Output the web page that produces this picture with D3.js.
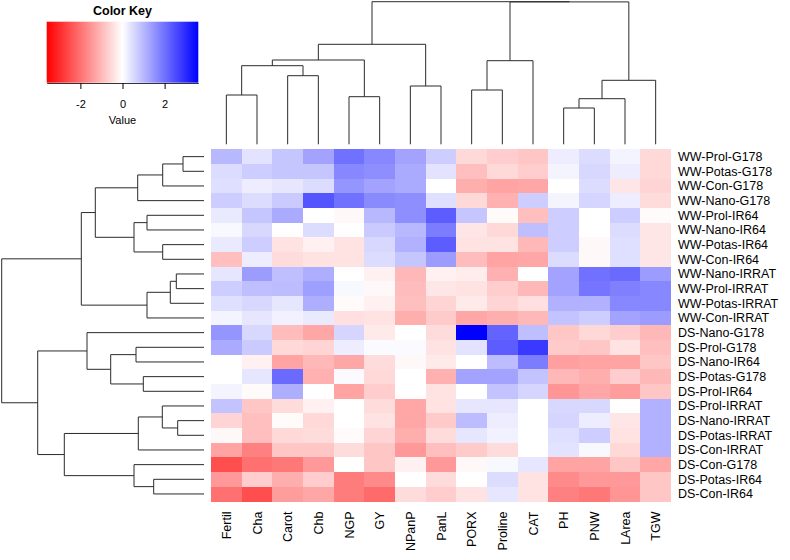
<!DOCTYPE html>
<html><head><meta charset="utf-8">
<script src="https://cdn.jsdelivr.net/npm/d3@7"></script>
<style>
body{margin:0;background:#fff;}
svg{display:block;font-family:"Liberation Sans",Arial,sans-serif;}
</style></head>
<body><svg id="c" width="790" height="560"></svg>
<script>
const colLabels = ["Fertil","Cha","Carot","Chb","NGP","GY","NPanP","PanL","PORX","Proline","CAT","PH","PNW","LArea","TGW"];
const rowLabels = ["WW-Prol-G178","WW-Potas-G178","WW-Con-G178","WW-Nano-G178","WW-Prol-IR64","WW-Nano-IR64","WW-Potas-IR64","WW-Con-IR64","WW-Nano-IRRAT","WW-Prol-IRRAT","WW-Potas-IRRAT","WW-Con-IRRAT","DS-Nano-G178","DS-Prol-G178","DS-Nano-IR64","DS-Potas-G178","DS-Prol-IR64","DS-Prol-IRRAT","DS-Nano-IRRAT","DS-Potas-IRRAT","DS-Con-IRRAT","DS-Con-G178","DS-Potas-IR64","DS-Con-IR64"];
// scaled values, one row per rowLabel, columns in colLabels order
const values = [
 [1.0,0.4,0.8,1.3,2.0,1.7,1.3,0.7,-0.55,-0.7,-0.8,0.25,0.5,0.15,-0.55],
 [0.5,0.7,0.8,0.8,1.7,1.6,1.2,0.4,-0.9,-0.55,-0.7,0.15,0.55,0.25,-0.55],
 [0.45,0.25,0.35,0.5,1.5,1.3,1.2,0.0,-1.15,-1.3,-1.25,0.0,0.5,-0.35,-0.6],
 [0.7,0.5,0.75,2.4,2.0,1.65,1.6,0.45,-0.55,-1.1,0.7,0.15,0.6,0.25,-0.5],
 [0.3,0.8,1.2,0.0,-0.1,1.0,1.6,2.3,0.8,-0.05,-0.9,0.7,0.0,0.7,-0.05],
 [0.1,0.55,0.0,0.5,0.0,0.75,1.0,1.85,-0.35,-0.55,0.9,0.7,0.0,0.5,-0.35],
 [0.3,0.7,-0.4,-0.2,-0.4,0.55,1.1,2.3,-0.4,-0.4,-1.0,0.7,-0.1,0.45,-0.35],
 [-0.9,0.25,-0.5,-0.4,-0.4,0.5,0.8,1.4,-0.95,-1.3,-1.25,0.5,-0.1,0.45,-0.35],
 [0.35,1.4,0.9,1.15,0.0,-0.2,-1.0,-0.2,-0.25,-1.1,0.0,1.3,2.0,2.1,1.4],
 [0.7,0.9,0.95,1.35,0.1,-0.1,-0.95,-0.35,-0.4,-0.7,-1.0,1.3,1.95,1.8,1.7],
 [0.45,0.55,0.35,1.15,-0.05,-0.2,-0.9,-0.6,-0.3,-0.6,-0.45,1.1,1.1,1.7,1.7],
 [0.15,0.35,0.2,0.3,-0.45,-0.4,-1.15,-0.75,-1.25,-1.15,-1.0,0.85,0.7,1.3,1.4],
 [1.5,0.55,-0.95,-1.25,0.6,-0.3,0.0,-0.5,3.6,2.2,0.9,-0.8,-0.55,-0.7,-1.0],
 [1.2,0.75,-0.55,-0.6,0.25,0.05,0.05,-0.4,0.4,2.3,2.8,-0.75,-0.8,-0.4,-0.9],
 [0.0,-0.2,-1.3,-1.0,-1.25,-0.5,-0.1,-0.3,0.0,0.95,1.85,-1.35,-1.3,-1.3,-0.8],
 [0.0,0.35,2.1,-1.1,0.05,-0.55,0.0,-1.1,1.3,1.3,0.85,-1.0,-1.15,-0.7,-1.0],
 [0.15,-0.05,1.15,0.0,-1.3,-0.7,0.0,-0.4,0.0,0.85,0.6,-1.5,-1.25,-1.4,-0.8],
 [0.85,-0.8,-0.5,-0.2,0.0,-0.5,-1.25,-0.4,0.35,0.35,0.0,0.55,0.55,0.0,1.1],
 [-0.6,-0.9,-0.05,-0.55,0.0,-0.4,-1.25,-0.75,0.95,0.25,0.0,0.6,0.25,-0.35,1.1],
 [-0.1,-0.9,-0.55,-0.5,-0.05,-0.6,-1.15,-0.5,0.35,0.2,0.0,0.45,0.7,-0.4,1.1],
 [-1.3,-1.8,-0.8,-0.8,-0.5,-0.8,-1.45,-0.9,-0.75,-0.5,0.0,0.4,0.1,-0.55,1.1],
 [-2.5,-2.0,-1.9,-1.45,0.0,-0.8,-0.2,-1.45,-0.1,0.1,0.35,-1.3,-1.3,-0.8,-1.25],
 [-1.45,-0.7,-1.15,-0.7,-1.85,-1.65,0.0,-0.5,0.0,0.5,-0.4,-1.65,-1.45,-1.45,-0.8],
 [-2.0,-2.5,-1.4,-1.25,-1.85,-2.1,-0.5,-0.7,-0.4,0.35,-0.4,-1.8,-1.9,-1.5,-0.8]
];
// hclust-style merges: negative = leaf (-(index+1)) in display order, positive = earlier merge (1-based); third = height
const colMerge = [
 [-1,-2,4.93],[-3,-4,6.86],[1,2,7.86],[-5,-6,4.76],[3,4,8.43],[-7,-8,5.83],[5,6,10.0],
 [-9,-10,5.43],[8,-11,8.36],[-12,-13,3.63],[10,-14,4.56],[11,-15,6.40],[9,12,14.24],[7,13,14.26]
];
const rowMerge = [
 [-1,-2,2.10],[1,-3,4.13],[2,-4,6.63],[-5,-6,5.70],[-7,-8,4.13],[4,5,7.00],[3,6,10.87],
 [-9,-10,2.77],[8,-11,3.37],[9,-12,5.70],[7,10,12.27],
 [-14,-15,6.80],[-16,-17,6.07],[12,13,9.33],[-13,14,11.70],
 [-19,-20,2.63],[-18,16,4.17],[17,-21,6.57],[-23,-24,5.03],[-22,19,7.00],[18,20,13.97],
 [15,21,16.63],[11,22,20.23]
];
const keyTicks = [-2,0,2];
const keyRange = [-3.6,3.6];

const svg = d3.select("#c");
const x = d3.scaleBand().domain(colLabels).range([211,671]);
const y = d3.scaleBand().domain(rowLabels).range([149.3,501.3]);
const color = d3.scaleLinear().domain([keyRange[0],0,keyRange[1]]).range(["#ff0000","#ffffff","#0000ff"]).clamp(true);

// heatmap cells
const cells = [];
values.forEach((r,i)=>r.forEach((v,j)=>cells.push({r:rowLabels[i],c:colLabels[j],v})));
svg.append("g").selectAll("rect").data(cells).join("rect")
 .attr("x",d=>x(d.c)).attr("y",d=>y(d.r))
 .attr("width",x.bandwidth()+0.4).attr("height",y.bandwidth()+0.4)
 .attr("fill",d=>color(d.v)).attr("shape-rendering","crispEdges");

// row labels
svg.append("g").selectAll("text").data(rowLabels).join("text")
 .attr("x",678).attr("y",d=>y(d)+y.bandwidth()/2).attr("dy","0.36em")
 .attr("font-size","12.5px").attr("fill","#000").text(d=>d);
// column labels
svg.append("g").selectAll("text").data(colLabels).join("text")
 .attr("transform",d=>`translate(${x(d)+x.bandwidth()/2},511.5) rotate(-90)`)
 .attr("dy","0.36em").attr("text-anchor","end")
 .attr("font-size","12.5px").attr("fill","#000").text(d=>d);

// dendrogram helper
function dendro(merge, leafPos, hScale, vertical){
  const nodes = merge.map(()=>null);
  const get = k => k<0 ? {p:leafPos(-k-1),h:0} : nodes[k-1];
  const segs = [];
  merge.forEach((m,i)=>{
    const a = get(m[0]), b = get(m[1]);
    const node = {p:(a.p+b.p)/2, h:m[2]};
    nodes[i] = node;
    [a,b].forEach(c=>segs.push([[c.p,c.h],[c.p,node.h]]));
    segs.push([[a.p,node.h],[b.p,node.h]]);
  });
  return segs.map(s=>s.map(([p,h])=> vertical ? [p,hScale(h)] : [hScale(h),p]));
}
const line = d3.line();
const colH = d3.scaleLinear().domain([0,14.26]).range([144.3,1.7]);
const colSegs = dendro(colMerge, i=>x(colLabels[i])+x.bandwidth()/2, colH, true);
svg.append("g").selectAll("path").data(colSegs).join("path")
 .attr("d",line).attr("stroke","#2a2a2a").attr("stroke-width",1).attr("fill","none");
const rowH = d3.scaleLinear().domain([0,20.23]).range([204,1.7]);
const rowSegs = dendro(rowMerge, i=>y(rowLabels[i])+y.bandwidth()/2, rowH, false);
svg.append("g").selectAll("path").data(rowSegs).join("path")
 .attr("d",line).attr("stroke","#2a2a2a").attr("stroke-width",1).attr("fill","none");

// color key
const kx = d3.scaleLinear().domain(keyRange).range([46.7,198.3]);
const grad = svg.append("defs").append("linearGradient").attr("id","kg")
 .attr("x1","0%").attr("x2","100%").attr("y1","0%").attr("y2","0%");
d3.range(0,1.0001,0.05).forEach(t=>{
  grad.append("stop").attr("offset",(t*100)+"%").attr("stop-color",color(keyRange[0]+t*(keyRange[1]-keyRange[0])));
});
svg.append("rect").attr("x",kx(keyRange[0])).attr("y",21.7)
 .attr("width",kx(keyRange[1])-kx(keyRange[0])).attr("height",61).attr("fill","url(#kg)");
const ax = svg.append("g").attr("transform","translate(0,83)")
 .call(d3.axisBottom(kx).tickValues(keyTicks).tickSize(6).tickSizeOuter(0).tickPadding(11).tickFormat(d=>String(d)));
ax.select(".domain").attr("stroke","#333");
ax.selectAll(".tick line").attr("stroke","#000");
ax.selectAll("text").attr("font-size","11px").attr("font-family","Liberation Sans, Arial, sans-serif").attr("fill","#000");
svg.append("text").attr("x",122.5).attr("y",124).attr("text-anchor","middle")
 .attr("font-size","11px").text("Value");
svg.append("text").attr("x",122.5).attr("y",15).attr("text-anchor","middle")
 .attr("font-size","12.5px").attr("font-weight","bold").text("Color Key");
</script></body></html>
